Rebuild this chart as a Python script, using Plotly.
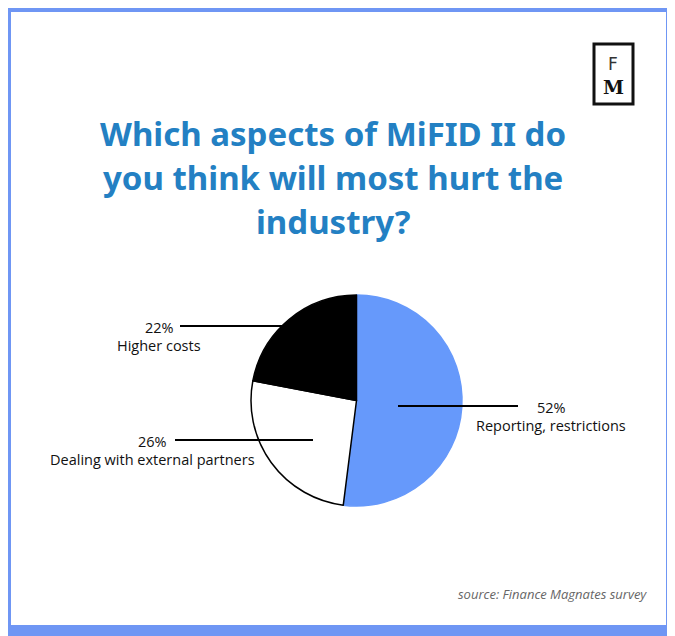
import plotly.graph_objects as go

W, H = 675, 636
# the page adds an 8px body margin, so pixel positions are shifted back by it
OFF = 8

# Survey data
labels = ["Reporting, restrictions", "Dealing with external partners", "Higher costs"]
values = [52, 26, 22]
colors = ["#6699fb", "#ffffff", "#000000"]
edge_colors = ["#6699fb", "#000000", "#000000"]

title_lines = ["Which aspects of MiFID II do", "you think will most hurt the", "industry?"]
source_text = "source: Finance Magnates survey"


def px(x):
    return (x - OFF) / W


def py(y):
    return 1 - (y - OFF) / H


fig = go.Figure()

# pie centred at about (356, 400), radius ~105 px
fig.add_trace(go.Pie(
    labels=labels,
    values=values,
    sort=False,
    direction="clockwise",
    rotation=0,
    marker=dict(colors=colors, line=dict(color=edge_colors, width=1.5)),
    textinfo="none",
    hoverinfo="label+percent",
    showlegend=False,
    domain=dict(x=[px(251), px(462)], y=[py(506), py(295)]),
))

shapes = [
    # white card on the blue frame
    dict(type="rect", xref="paper", yref="paper",
         x0=px(11), x1=px(666), y0=py(625), y1=py(12),
         fillcolor="white", line=dict(width=0), layer="below"),
    # FM logo box
    dict(type="rect", xref="paper", yref="paper",
         x0=px(594), x1=px(633), y0=py(104), y1=py(44),
         line=dict(color="#111111", width=3)),
]

# leader lines (pixel positions)
leaders = [
    (180, 292, 326),
    (175, 313, 440),
    (398, 518, 406),
]
for x0, x1, y in leaders:
    shapes.append(dict(type="line", xref="paper", yref="paper",
                       x0=px(x0), x1=px(x1), y0=py(y), y1=py(y),
                       line=dict(color="#000000", width=2)))

ann = []
for i, line in enumerate(title_lines):
    ann.append(dict(text="<b>%s</b>" % line, x=px(333), y=py(133 + i * 44),
                    xref="paper", yref="paper", showarrow=False,
                    xanchor="center", yanchor="middle",
                    font=dict(family="Noto Sans", size=33, color="#2380c3")))

label_font = dict(family="Open Sans", size=14.5, color="#111111")
ann += [
    dict(text="%d%%" % values[2], x=px(159.5), y=py(327)),
    dict(text=labels[2], x=px(159), y=py(345)),
    dict(text="%d%%" % values[1], x=px(152), y=py(441)),
    dict(text=labels[1], x=px(152.5), y=py(460)),
    dict(text="%d%%" % values[0], x=px(551), y=py(407)),
    dict(text=labels[0], x=px(551), y=py(425)),
]
for a in ann[len(title_lines):]:
    a.update(xref="paper", yref="paper", showarrow=False,
             xanchor="center", yanchor="middle", font=label_font)

# FM logo letters
ann.append(dict(text="F", x=px(613), y=py(64), xref="paper", yref="paper",
                showarrow=False, xanchor="center", yanchor="middle",
                font=dict(family="DejaVu Sans", size=17, color="#333333")))
ann.append(dict(text="<b>M</b>", x=px(613), y=py(87), xref="paper", yref="paper",
                showarrow=False, xanchor="center", yanchor="middle",
                font=dict(family="DejaVu Serif", size=19, color="#111111")))

ann.append(dict(text="<i>%s</i>" % source_text, x=px(649), y=py(594),
                xref="paper", yref="paper", showarrow=False,
                xanchor="right", yanchor="middle",
                font=dict(family="Open Sans", size=13, color="#666666")))

fig.update_layout(
    width=W, height=H,
    margin=dict(l=0, r=0, t=0, b=0),
    paper_bgcolor="#6f96f4",
    plot_bgcolor="white",
    shapes=shapes,
    annotations=ann,
)

fig.write_html("out.html")
